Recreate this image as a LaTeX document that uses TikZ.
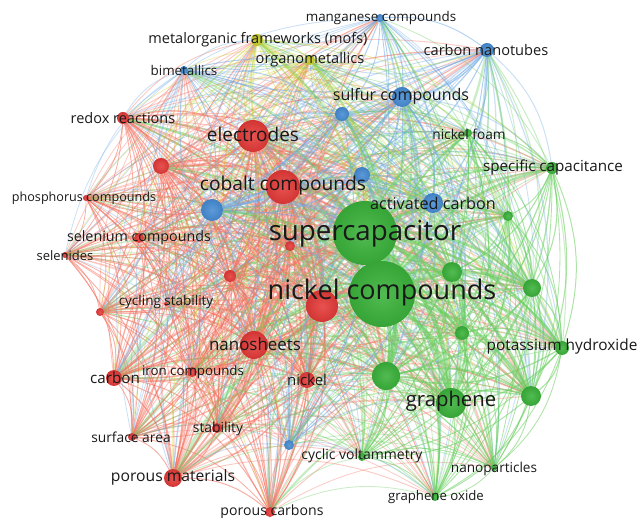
\documentclass[tikz,border=0pt]{standalone}
\usepackage{fontspec}
\setmainfont{Open Sans}
\usetikzlibrary{backgrounds}
\definecolor{c1}{RGB}{228,58,56}
\definecolor{c2}{RGB}{70,140,212}
\definecolor{c3}{RGB}{200,205,40}
\definecolor{c4}{RGB}{58,178,58}
\definecolor{e1}{RGB}{244,112,94}
\definecolor{e2}{RGB}{112,170,228}
\definecolor{e3}{RGB}{205,212,50}
\definecolor{e4}{RGB}{104,206,94}
\definecolor{txt}{RGB}{25,25,25}
\tikzset{
  bub/.style={circle,inner sep=0pt,outer sep=0pt,draw=none},
  lab/.style={text=txt,inner sep=0pt,anchor=center},
  link/.style={bend left=20,line cap=round}
}
\def\nodelist{redox/123/118/6/1, electr/253/136/16/1, rA/161/166/8/1, cobalt/283/187/17/1, phos/86/198/3/1, selen/139/238/5/1, selenides/65/255/3/1, rB/290/246/5/1, rC/230/276/6/1, cyc/100/312/4/1, cycs/166/304/2/1, rD/322/306/16/1, nanos/254/345/14/1, carbon/114/378/8/1, iron/192/372/5/1, nickel/307/380/8/1, surf/132/437/4/1, stab/217/428/5/1, porousm/173/478/9/1, porousc/270/512/5/1, mang/380/18/4/2, cnt/487/50/7/2, bimet/184/70/4/2, sulfur/402/97/10/2, bA/342/114/7/2, bB/362/175/8/2, bC/212/210/11/2, actc/433/203/10/2, bD/289/445/5/2, mof/257/40/6/3, organo/310/60/5/3, supercap/365/233/32/4, nickelc/382/294/33/4, nfoam/468/133/4/4, spec/552/168/6/4, gA/508/216/5/4, gB/452/272/10/4, gC/532/288/9/4, gD/462/333/7/4, koh/562/348/7/4, gE/386/376/14/4, graphene/451/403/15/4, gF/531/396/10/4, cv/362/457/4/4, nanop/494/468/3/4, go/435/497/4/4}
\begin{document}
\begin{tikzpicture}[x=1pt,y=-1pt]
\useasboundingbox (0,0) rectangle (640,518);
\clip (0,0) rectangle (640,518);
% nodes
\foreach \n/\x/\y/\r/\k in \nodelist {
  \node[bub,inner color=c\k!88!white,outer color=c\k!92!black,minimum size={2*\r}] (\n) at (\x,\y) {};
}
% links
\begin{scope}[on background layer]
\foreach \a/\ax/\ay/\ra/\ka [count=\i] in \nodelist {
  \foreach \b/\bx/\by/\rb/\kb [count=\j] in \nodelist {
    \ifnum\j>\i
      \pgfmathsetmacro\lw{min(0.7+\ra*\rb/140,4.5)}
      \ifnum\ka=\kb
        \draw[link,draw=e\ka,line width=\lw pt,opacity=0.55] (\a) to (\b);
      \else
        \ifodd\numexpr\i+\j\relax
          \draw[link,draw=e\ka,line width=\lw pt,opacity=0.36] (\a) to (\b);
        \else
          \draw[link,draw=e\kb,line width=\lw pt,opacity=0.36] (\a) to (\b);
        \fi
      \fi
    \fi
  }
}
\end{scope}
% labels
\foreach \n/\x/\y/\s/\t in {
  redox/123/118/14.5/redox reactions,
  electr/253/134/19/electrodes,
  cobalt/283/186/19.2/cobalt compounds,
  phos/84/198/12.6/phosphorus compounds,
  selen/139/238/14.3/selenium compounds,
  selenides/65/256/13/selenides,
  cyc/166/302/13.5/cycling stability,
  nanos/255/344/16.9/nanosheets,
  carbon/115/378/15.2/carbon,
  iron/193/372/13.3/iron compounds,
  nickel/307/380/15/nickel,
  surf/131/437/13.8/surface area,
  stab/218/429/13.9/stability,
  porousm/173/477/15.7/porous materials,
  porousc/272/512/14.1/porous carbons,
  mang/381/18/13.4/manganese compounds,
  cnt/486/50/14.6/carbon nanotubes,
  bimet/184/70/13.4/bimetallics,
  sulfur/401/96/16/sulfur compounds,
  actc/433/203/16.2/activated carbon,
  mof/258/40/14.5/metalorganic frameworks (mofs),
  organo/310/60/14.6/organometallics,
  supercap/365/234/27.7/supercapacitor,
  nickelc/382/292/27/nickel compounds,
  nfoam/469/134/13.7/nickel foam,
  spec/553/168/15.2/specific capacitance,
  koh/562/347/15.4/potassium hydroxide,
  graphene/451/401/20.3/graphene,
  cv/362/456/14/cyclic voltammetry,
  nanop/494/469/13.6/nanoparticles,
  go/436/497/13.2/graphene oxide} {
  \node[lab,font=\fontsize{\s}{\s}\selectfont] (l-\n) at (\x,\y) {\t};
}
\end{tikzpicture}
\end{document}
